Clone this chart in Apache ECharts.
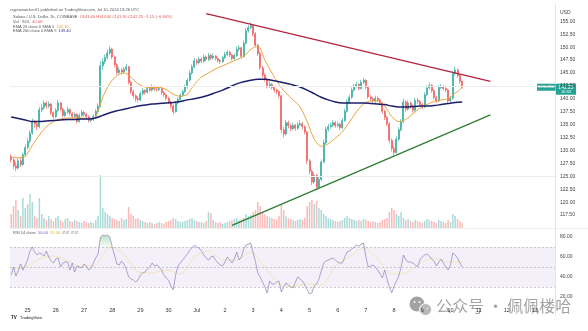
<!DOCTYPE html>
<html>
<head>
<meta charset="utf-8">
<script src="https://cdn.jsdelivr.net/npm/echarts@6/dist/echarts.min.js"></script>
<style>
  html, body { margin: 0; padding: 0; background: #ffffff; }
  #chart { width: 588px; height: 331px; }
</style>
</head>
<body>
<div id="chart"></div>
<script>
// SOL/USD, 2-hour candles from Jun 24 10:00 UTC to Jul 10 10:00 UTC
const FIRST_OPEN = 128.8;
const CLOSE = [
  128.2,127.0,126.6,128.0,127.3,129.2,130.6,131.8,133.4,135.6,
  135.2,134.6,137.9,138.3,139.2,138.6,139.0,137.3,136.6,137.8,
  139.2,138.0,136.8,137.4,137.9,137.2,136.6,137.0,135.6,136.8,
  137.4,137.0,136.5,135.8,136.0,136.6,137.6,138.6,146.4,147.2,
  148.0,148.9,149.6,148.1,146.6,145.1,145.6,145.2,145.7,146.2,
  143.2,141.4,140.6,140.0,139.8,141.0,141.6,141.3,142.0,141.7,
  142.3,141.9,141.8,142.0,141.2,140.8,140.1,139.4,138.6,137.5,
  139.2,139.9,140.7,141.4,142.3,143.6,145.0,146.2,147.4,147.0,
  147.7,147.3,148.1,147.6,148.4,147.9,148.3,147.8,147.4,147.2,
  148.0,148.6,149.0,148.5,147.8,148.4,149.6,149.9,148.2,150.8,
  153.2,153.8,154.2,152.6,150.4,148.8,146.0,144.6,143.8,142.5,
  142.8,142.2,141.7,141.4,140.6,134.0,133.2,135.4,134.8,134.2,
  134.9,134.3,135.0,135.2,134.6,133.6,128.0,126.0,123.9,125.2,
  122.9,124.4,127.8,131.5,134.1,134.6,134.9,135.4,134.8,135.1,
  134.4,135.8,137.6,139.4,140.3,141.7,142.4,142.8,142.0,143.2,
  143.6,142.2,140.4,140.0,139.6,140.1,139.8,139.2,137.6,136.4,
  135.2,132.0,130.4,129.6,132.2,134.0,135.6,139.4,138.0,139.2,
  138.6,137.8,139.7,139.5,138.9,138.4,140.8,142.1,142.6,141.6,
  140.3,139.6,142.2,142.4,142.0,141.7,139.6,140.1,144.9,145.6,
  144.5,143.4,142.25
];
const HIGH = [
  129.3,128.6,127.8,128.5,128.6,129.6,131.2,132.4,133.9,136.2,
  136.0,135.7,138.4,139.0,139.7,139.6,139.5,139.2,137.6,138.2,
  139.8,139.4,138.3,137.9,138.5,138.2,137.5,137.4,137.2,137.2,
  137.9,137.7,137.3,136.8,136.4,137.0,138.0,139.1,147.3,147.9,
  148.6,149.5,150.2,149.9,148.4,146.9,146.1,145.9,146.2,146.8,
  146.4,143.5,141.8,140.9,140.5,141.4,142.1,141.9,142.5,142.3,
  142.8,142.6,142.4,142.5,142.2,141.5,141.0,140.4,139.7,138.9,
  139.6,140.3,141.1,141.8,142.7,144.0,145.5,146.7,147.9,147.8,
  148.2,148.0,148.6,148.4,148.9,148.7,148.8,148.5,148.0,147.7,
  148.4,149.1,149.5,149.3,148.7,148.8,150.1,150.4,150.1,151.3,
  153.7,154.3,154.8,154.5,152.9,150.7,149.1,146.4,145.0,144.1,
  143.4,143.1,142.5,142.0,141.7,140.8,134.6,135.9,135.8,135.2,
  135.4,135.2,135.5,135.9,135.5,134.9,133.8,128.4,126.3,125.8,
  125.5,125.0,128.3,132.1,134.6,135.2,135.4,135.9,135.7,135.6,
  135.4,136.3,138.1,139.9,140.8,142.2,142.9,143.3,143.1,143.7,
  144.1,143.8,142.5,140.8,140.4,140.6,140.5,140.1,139.4,137.9,
  136.7,135.4,132.3,130.9,132.7,134.5,136.1,140.0,139.7,139.7,
  139.5,138.9,140.2,140.1,139.8,139.2,141.3,142.6,143.2,142.9,
  141.9,140.6,142.7,142.9,142.7,142.3,141.9,140.6,145.4,146.2,
  145.9,144.8,143.6
];
const LOW = [
  127.6,126.4,126.0,126.3,126.8,127.0,128.8,130.2,131.4,133.0,
  134.4,133.9,134.3,137.4,137.9,138.0,138.2,136.9,136.1,136.3,
  137.5,137.6,136.4,136.5,137.1,136.8,136.2,136.3,135.2,135.4,
  136.5,136.6,136.1,135.4,135.5,135.7,136.3,137.3,138.4,145.6,
  146.7,147.6,148.5,147.7,146.1,144.6,144.8,144.7,144.9,145.4,
  142.8,140.9,140.1,139.4,139.3,139.5,140.7,140.8,141.0,141.3,
  141.4,141.5,141.4,141.5,140.8,140.4,139.7,139.0,138.1,137.0,
  137.3,138.9,139.6,140.4,141.1,142.0,143.3,144.7,145.9,146.5,
  146.7,146.9,147.0,147.2,147.3,147.5,147.6,147.4,147.0,146.7,
  146.9,147.7,148.3,148.1,147.4,147.5,148.1,149.2,147.8,148.0,
  150.5,152.8,153.4,152.1,150.0,148.3,145.6,144.1,143.3,142.0,
  142.1,141.8,141.2,140.9,140.1,133.4,132.5,132.9,134.3,133.7,
  133.9,133.8,134.0,134.7,134.1,133.1,127.4,125.4,123.3,123.5,
  122.3,122.5,124.1,127.5,131.2,133.7,134.2,134.6,134.4,134.5,
  133.9,134.1,135.5,137.3,139.0,140.0,141.4,142.0,141.6,141.8,
  142.9,141.8,140.0,139.5,139.1,139.2,139.4,138.8,137.1,135.9,
  134.7,131.4,129.8,129.1,129.4,131.9,133.7,135.3,137.4,137.7,
  138.1,137.3,137.5,139.0,138.5,138.0,138.2,140.5,141.8,141.2,
  139.9,139.2,139.4,141.9,141.6,141.2,139.2,139.3,139.9,144.5,
  144.1,142.9,141.9
];
// volume in thousands of SOL
const VOLUME = [
  112,176,224,144,96,240,160,192,272,208,96,80,240,
  112,80,64,96,72,56,80,96,64,48,72,80,56,
  48,64,56,48,40,56,48,40,48,40,64,96,
  424,
  160,128,112,96,80,72,64,56,80,64,72,
  168,112,96,72,80,64,
  56,48,40,48,40,32,40,48,40,32,48,56,64,80,
  72,56,48,48,56,64,72,80,64,56,48,
  48,40,56,128,120,64,48,40,48,32,40,48,56,64,72,80,64,72,80,
  112,96,104,128,144,208,176,128,112,96,88,80,72,64,96,
  184,144,96,80,72,64,56,64,72,64,80,
  176,208,224,192,216,160,144,112,96,80,72,64,56,48,56,
  64,80,96,80,72,64,56,64,56,72,64,56,48,56,48,40,48,64,72,80,
  128,160,144,112,96,128,80,64,72,56,48,64,56,48,40,
  56,72,64,56,48,40,64,56,48,40,64,48,112,96,72,56,40
];
const RSI = [
  42,50,41,46,53,47,52,57,66,70,
  65,62,64,63,61,66,60,56,54,58,
  59,50,54,55,55,47,54,45,51,50,
  49,53,51,47,49,54,59,63,80,82,
  81,82,80,70,62,53,52,56,53,48,
  40,38,37,35,37,42,44,45,48,50,
  54,51,52,50,47,42,39,37,31,27,
  42,51,54,57,60,63,67,69,72,70,
  69,66,62,59,57,60,61,57,54,52,
  51,55,60,57,54,58,65,57,60,68,
  72,73,74,64,55,44,40,35,30,24,
  36,33,33,35,36,25,30,34,32,30,
  29,35,40,38,36,32,27,23,24,31,
  33,38,46,54,56,57,58,59,57,55,
  54,54,60,65,66,68,70,72,71,73,
  74,60,50,51,52,50,47,43,39,47,
  38,30,24,31,36,41,50,62,57,55,
  55,54,52,50,57,60,62,63,61,58,
  56,51,55,58,54,50,47,52,64,62,
  59,54,50
];
// moving averages sampled every 3rd bar, RSI average every 6th bar
const EMA_STEP = 3;
const EMA20 = [
  128.8,128.6,128.9,131.0,133.0,134.6,135.6,136.1,136.3,136.3,
  136.3,136.1,136.6,140.3,143.0,144.5,145.0,144.2,142.9,142.3,
  142.2,142.2,141.8,140.9,140.5,140.9,142.8,144.2,145.0,145.8,
  146.4,147.0,147.6,148.2,149.6,150.2,147.5,145.0,142.8,141.1,
  139.8,138.4,135.6,132.2,130.8,131.3,132.4,133.6,135.5,137.5,
  139.0,139.6,139.6,138.6,136.6,135.6,136.0,137.1,138.2,138.9,
  139.5,139.8,140.0,141.1,142.1
];
const EMA200 = [
  136.5,136.2,135.9,135.6,135.6,135.7,135.8,135.9,136.0,136.0,
  136.1,136.1,136.3,136.8,137.3,137.7,138.0,138.3,138.6,138.8,
  139.0,139.1,139.2,139.3,139.5,139.8,140.0,140.3,140.7,141.2,
  141.7,142.3,142.9,143.3,143.6,143.8,143.8,143.6,143.3,143.0,
  142.7,142.3,141.7,141.0,140.3,139.8,139.4,139.2,139.2,139.2,
  139.2,139.1,139.0,138.9,138.6,138.4,138.4,138.5,138.6,138.6,
  138.7,138.9,139.1,139.3,139.4
];
const RSI_MA_STEP = 6;
const RSI_MA = [48,50,58,61,56,51,52,70,63,45,44,47,43,60,66,57,57,65,50,33,31,33,32,51,60,69,58,43,44,54,59,55,55];

// drawn trend lines: [bar slot, price]
const TREND_RESISTANCE = [[83, 156.5], [204, 143.4]];
const TREND_SUPPORT = [[94, 115.5], [204, 136.9]];

const DAY_LABELS = ['25','26','27','28','29','30','Jul','2','3','4','5','6','7','8','9','10','11','12','13'];
const PRICE_GRID_LEVELS = [125, 142.5];

const SLOTS = 232;
const START_MS = Date.UTC(2024, 5, 24, 10);
const cats = [];
for (let i = 0; i < SLOTS; i++) {
  const d = new Date(START_MS + i * 2 * 3600 * 1000);
  cats.push(d.toISOString().slice(5, 16).replace('T', ' '));
}
const firstMidnight = cats.findIndex(c => c.endsWith('00:00'));
function isDayTick(i) { return i >= firstMidnight && (i - firstMidnight) % 12 === 0; }

const UP = '#26a69a', DOWN = '#ef5350';
const opens = CLOSE.map((c, i) => i === 0 ? FIRST_OPEN : CLOSE[i - 1]);
const candles = CLOSE.map((c, i) => [opens[i], c, LOW[i], HIGH[i]]);
const volData = VOLUME.map((v, i) => ({
  value: v,
  itemStyle: { color: CLOSE[i] >= opens[i] ? 'rgba(38,166,154,0.4)' : 'rgba(239,83,80,0.4)' }
}));
function spread(arr, step) {
  const out = new Array(CLOSE.length).fill(null);
  arr.forEach((v, k) => { out[k * step] = v; });
  return out;
}
const hot = RSI.map(v => Math.max(v, 70));
const cold = RSI.map(v => Math.min(v, 30));

const FONT = 'Liberation Sans, Arial, sans-serif';
const chart = echarts.init(document.getElementById('chart'), null, { renderer: 'canvas' });

chart.setOption({
  animation: false,
  backgroundColor: '#ffffff',
  grid: [
    { left: 10, right: 33, top: 10, height: 218, containLabel: false, outerBoundsMode: 'none' },
    { left: 10, right: 33, top: 227, height: 75, containLabel: false, outerBoundsMode: 'none' }
  ],
  xAxis: [
    { type: 'category', gridIndex: 0, data: cats, boundaryGap: true,
      axisLine: { show: false }, axisTick: { show: false }, axisLabel: { show: false },
      splitLine: { show: false } },
    { type: 'category', gridIndex: 1, data: cats, boundaryGap: true,
      axisLine: { show: false }, axisTick: { show: false },
      axisLabel: {
        interval: (i) => isDayTick(i),
        formatter: (v, i) => DAY_LABELS[(i - firstMidnight) / 12] || '',
        fontSize: 5.5, color: '#333', margin: 5, fontFamily: FONT
      },
      splitLine: { show: false } }
  ],
  yAxis: [
    { type: 'value', gridIndex: 0, position: 'right', min: 115, max: 157.2, interval: 2.5,
      axisLine: { show: false }, axisTick: { show: false }, splitLine: { show: false },
      axisLabel: { fontSize: 5, color: '#444', margin: 5, fontFamily: FONT,
        showMinLabel: false, showMaxLabel: false, formatter: v => v.toFixed(2) } },
    { type: 'value', gridIndex: 0, min: 0, max: 1744, show: false },
    { type: 'value', gridIndex: 1, position: 'right', min: 15, max: 90, interval: 5,
      axisLine: { show: false }, axisTick: { show: false }, splitLine: { show: false },
      axisLabel: { fontSize: 5, color: '#444', margin: 5, fontFamily: FONT,
        formatter: v => (v % 20 === 0 ? v.toFixed(2) : '') } }
  ],
  series: [
    { name: 'Volume', type: 'bar', xAxisIndex: 0, yAxisIndex: 1, data: volData,
      barWidth: 1.5, z: 1, silent: true },
    { name: 'SOLUSD', type: 'candlestick', xAxisIndex: 0, yAxisIndex: 0, data: candles,
      barWidth: 1.5, z: 3,
      itemStyle: { color: UP, color0: DOWN, borderColor: UP, borderColor0: DOWN, borderWidth: 0.6 },
      markLine: { silent: true, symbol: 'none', label: { show: false },
        lineStyle: { color: '#ececec', width: 1, type: 'solid' },
        data: PRICE_GRID_LEVELS.map(v => ({ yAxis: v })) } },
    { name: 'EMA 20', type: 'line', xAxisIndex: 0, yAxisIndex: 0, data: spread(EMA20, EMA_STEP),
      connectNulls: true, symbol: 'none', smooth: 0.3, z: 4,
      lineStyle: { color: '#eba43a', width: 1 } },
    { name: 'EMA 200', type: 'line', xAxisIndex: 0, yAxisIndex: 0, data: spread(EMA200, EMA_STEP),
      connectNulls: true, symbol: 'none', smooth: 0.3, z: 4,
      lineStyle: { color: '#1c1f6b', width: 1.5 } },
    { name: 'Resistance', type: 'line', xAxisIndex: 0, yAxisIndex: 0, data: TREND_RESISTANCE,
      symbol: 'none', z: 5, lineStyle: { color: '#b3243c', width: 1.3 } },
    { name: 'Support', type: 'line', xAxisIndex: 0, yAxisIndex: 0, data: TREND_SUPPORT,
      symbol: 'none', z: 5, lineStyle: { color: '#2f7d32', width: 1.3 } },
    { name: 'RSI hot', type: 'line', xAxisIndex: 1, yAxisIndex: 2, data: hot, symbol: 'none',
      lineStyle: { width: 0 }, silent: true, z: 2,
      areaStyle: { origin: 70, color: new echarts.graphic.LinearGradient(0, 0, 0, 1, [
        { offset: 0, color: 'rgba(76,175,80,0.5)' }, { offset: 1, color: 'rgba(76,175,80,0.08)' }]) } },
    { name: 'RSI cold', type: 'line', xAxisIndex: 1, yAxisIndex: 2, data: cold, symbol: 'none',
      lineStyle: { width: 0 }, silent: true, z: 2,
      areaStyle: { origin: 30, color: 'rgba(239,83,80,0.08)' } },
    { name: 'RSI-based MA', type: 'line', xAxisIndex: 1, yAxisIndex: 2, data: spread(RSI_MA, RSI_MA_STEP),
      connectNulls: true, symbol: 'none', smooth: 0.3, z: 3,
      lineStyle: { color: 'rgba(240,214,90,0.5)', width: 0.8 } },
    { name: 'RSI', type: 'line', xAxisIndex: 1, yAxisIndex: 2, data: RSI, symbol: 'none', z: 4,
      lineStyle: { color: '#8378b8', width: 0.65 },
      markArea: { silent: true, itemStyle: { color: 'rgba(126,87,194,0.09)' },
        data: [[{ yAxis: 30 }, { yAxis: 70 }]] },
      markLine: { silent: true, symbol: 'none', label: { show: false },
        lineStyle: { color: '#a8a8a8', width: 0.6, type: [2, 2] },
        data: [{ yAxis: 70 }, { yAxis: 50 }, { yAxis: 30 }] } }
  ]
});

// header, price marker, pane borders and overlays
const last = CLOSE.length - 1;
const lastClose = CLOSE[last];
const chg = lastClose - CLOSE[last - 1];
const yLast = chart.convertToPixel({ yAxisIndex: 0 }, lastClose);
const f2 = v => v.toFixed(2);
const sgn = v => (v < 0 ? '\u2212' : '+') + Math.abs(v).toFixed(2);

chart.setOption({
  graphic: [
    { type: 'line', silent: true, shape: { x1: 555.5, y1: 4, x2: 555.5, y2: 316 },
      style: { stroke: '#e4e4e4', lineWidth: 1 } },
    { type: 'line', silent: true, shape: { x1: 10, y1: 228.5, x2: 588, y2: 228.5 },
      style: { stroke: '#f0f0f0', lineWidth: 1 } },
    { type: 'text', silent: true, style: { x: 10, y: 10, verticalAlign: 'middle', fontFamily: FONT,
      text: 'cryptowatcher01 published on TradingView.com, Jul 10, 2024 13:26 UTC', fontSize: 4, fill: '#555' } },
    { type: 'text', silent: true, style: { x: 13, y: 17, verticalAlign: 'middle', fontFamily: FONT, fontSize: 4,
      text: '{t|Solana / U.S. Dollar, 1h, COINBASE}  {v|O' + f2(opens[last]) + ' H' + f2(HIGH[last]) + ' L' + f2(LOW[last]) +
        ' C' + f2(lastClose) + ' ' + sgn(chg) + ' (' + sgn(chg / CLOSE[last - 1] * 100) + '%)}',
      rich: { t: { fill: '#555', fontSize: 4, fontFamily: FONT }, v: { fill: '#e0534f', fontSize: 4, fontFamily: FONT } } } },
    { type: 'text', silent: true, style: { x: 13, y: 22, verticalAlign: 'middle', fontFamily: FONT, fontSize: 4,
      text: '{t|Vol \u00b7 SOL}  {v|' + VOLUME[last] + '.0K}',
      rich: { t: { fill: '#555', fontSize: 4, fontFamily: FONT }, v: { fill: '#e0534f', fontSize: 4, fontFamily: FONT } } } },
    { type: 'text', silent: true, style: { x: 13, y: 26.5, verticalAlign: 'middle', fontFamily: FONT, fontSize: 4,
      text: '{t|EMA 20 close 0 SMA 5}  {v|' + f2(EMA20[EMA20.length - 1]) + '}',
      rich: { t: { fill: '#555', fontSize: 4, fontFamily: FONT }, v: { fill: '#e59a2b', fontSize: 4, fontFamily: FONT } } } },
    { type: 'text', silent: true, style: { x: 13, y: 31, verticalAlign: 'middle', fontFamily: FONT, fontSize: 4,
      text: '{t|EMA 200 close 0 EMA 9}  {v|' + f2(EMA200[EMA200.length - 1]) + '}',
      rich: { t: { fill: '#555', fontSize: 4, fontFamily: FONT }, v: { fill: '#2a2f8f', fontSize: 4, fontFamily: FONT } } } },
    { type: 'text', silent: true, style: { x: 13, y: 233, verticalAlign: 'middle', fontFamily: FONT, fontSize: 4,
      text: '{t|RSI 14 close}  {a|' + f2(RSI[last]) + '}  {b|' + f2(RSI_MA[RSI_MA.length - 1]) + '}  {t|\u2205 \u2205 \u2205 \u2205}',
      rich: { t: { fill: '#555', fontSize: 4, fontFamily: FONT }, a: { fill: '#7e57c2', fontSize: 4, fontFamily: FONT },
        b: { fill: '#d8b92a', fontSize: 4, fontFamily: FONT } } } },
    { type: 'text', silent: true, style: { x: 560, y: 13, verticalAlign: 'middle', fontFamily: FONT,
      text: 'USD', fontSize: 5, fill: '#444' } },
    { type: 'rect', silent: true, shape: { x: 537, y: yLast - 3.5, width: 18.5, height: 7 }, style: { fill: '#22a394' } },
    { type: 'text', silent: true, style: { x: 546.2, y: yLast, align: 'center', verticalAlign: 'middle',
      fontFamily: FONT, text: 'SOLUSD', fontSize: 4, fill: '#ffffff' } },
    { type: 'rect', silent: true, shape: { x: 556, y: yLast - 3.5, width: 20, height: 11 }, style: { fill: '#22a394' } },
    { type: 'text', silent: true, style: { x: 566, y: yLast, align: 'center', verticalAlign: 'middle',
      fontFamily: FONT, text: f2(lastClose), fontSize: 5, fill: '#ffffff' } },
    { type: 'text', silent: true, style: { x: 566, y: yLast + 5, align: 'center', verticalAlign: 'middle',
      fontFamily: FONT, text: '16:33', fontSize: 4, fill: '#ffffff' } },
    { type: 'text', silent: true, style: { x: 11, y: 318, verticalAlign: 'middle', fontFamily: FONT,
      text: '{l|TV} {t|TradingView}', rich: { l: { fill: '#131722', fontSize: 4.5, fontWeight: 'bold', fontFamily: FONT },
        t: { fill: '#131722', fontSize: 4, fontFamily: FONT } } } },
    // WeChat-style badge and caption
    { type: 'circle', silent: true, shape: { cx: 417, cy: 304, r: 7.5 }, style: { fill: '#a2a2a2' } },
    { type: 'circle', silent: true, shape: { cx: 425.5, cy: 309.5, r: 6 }, style: { fill: '#b8b8b8', stroke: '#ffffff', lineWidth: 1 } },
    { type: 'circle', silent: true, shape: { cx: 414.5, cy: 302, r: 0.9 }, style: { fill: '#ffffff' } },
    { type: 'circle', silent: true, shape: { cx: 419.5, cy: 302, r: 0.9 }, style: { fill: '#ffffff' } },
    { type: 'circle', silent: true, shape: { cx: 423.5, cy: 308.5, r: 0.7 }, style: { fill: '#ffffff' } },
    { type: 'circle', silent: true, shape: { cx: 427.5, cy: 308.5, r: 0.7 }, style: { fill: '#ffffff' } },
    { type: 'text', silent: true, style: { x: 436, y: 306, verticalAlign: 'middle',
      fontFamily: 'Noto Sans CJK SC, sans-serif', text: '公众号 · 佩佩楼哈', fontSize: 16, fill: 'rgba(140,140,140,0.8)' } }
  ]
});
</script>
</body>
</html>
